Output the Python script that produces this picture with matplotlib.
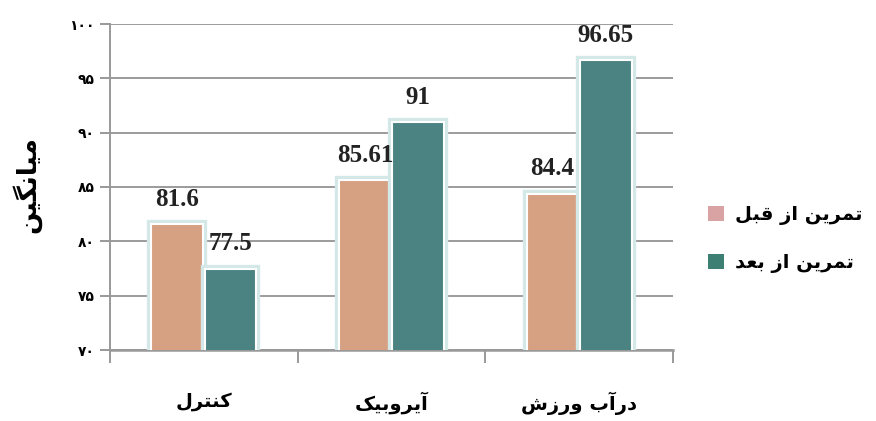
import matplotlib
matplotlib.use('Agg')
import matplotlib.pyplot as plt
import matplotlib.patheffects as pe
from matplotlib.patches import Patch
import numpy as np

# ---------------- data ----------------
categories = ['کنترل', 'آیروبیک', 'ورزش درآب']
series_names = ['قبل از تمرین', 'بعد از تمرین']
before = [81.6, 85.61, 84.4]
after = [77.5, 91, 96.65]
before_labels = ['81.6', '85.61', '84.4']
after_labels = ['77.5', '91', '96.65']
y_ticks = [70, 75, 80, 85, 90, 95, 100]
y_tick_labels = ['۷۰', '۷۵', '۸۰', '۸۵', '۹۰', '۹۵', '۱۰۰']
y_label = 'میانگین'

# ---------------- minimal Arabic/Persian shaping ----------------
FORMS = {
    'ا': ('\uFE8D', '\uFE8E', None, None),
    'آ': ('\uFE81', '\uFE82', None, None),
    'ب': ('\uFE8F', '\uFE90', '\uFE91', '\uFE92'),
    'ت': ('\uFE95', '\uFE96', '\uFE97', '\uFE98'),
    'د': ('\uFEA9', '\uFEAA', None, None),
    'ر': ('\uFEAD', '\uFEAE', None, None),
    'ز': ('\uFEAF', '\uFEB0', None, None),
    'ش': ('\uFEB5', '\uFEB6', '\uFEB7', '\uFEB8'),
    'ع': ('\uFEC9', '\uFECA', '\uFECB', '\uFECC'),
    'ق': ('\uFED5', '\uFED6', '\uFED7', '\uFED8'),
    'ل': ('\uFEDD', '\uFEDE', '\uFEDF', '\uFEE0'),
    'م': ('\uFEE1', '\uFEE2', '\uFEE3', '\uFEE4'),
    'ن': ('\uFEE5', '\uFEE6', '\uFEE7', '\uFEE8'),
    'و': ('\uFEED', '\uFEEE', None, None),
    'ی': ('\uFBFC', '\uFBFD', '\uFBFE', '\uFBFF'),
    'ک': ('\uFB8E', '\uFB8F', '\uFB90', '\uFB91'),
    'گ': ('\uFB92', '\uFB93', '\uFB94', '\uFB95'),
}


def shape_word(w):
    out = []
    n = len(w)
    for i, c in enumerate(w):
        f = FORMS.get(c)
        if f is None:
            out.append(c)
            continue
        prev = w[i - 1] if i > 0 else None
        nxt = w[i + 1] if i < n - 1 else None
        jp = prev in FORMS and FORMS[prev][2] is not None
        jn = f[2] is not None and nxt in FORMS
        if jp and jn:
            g = f[3]
        elif jp:
            g = f[1]
        elif jn:
            g = f[2]
        else:
            g = f[0]
        out.append(g)
    return ''.join(reversed(out))


def shape(text):
    # the reference keeps word order left-to-right, each word shaped
    return ' '.join(shape_word(w) for w in text.split(' '))


# ---------------- figure ----------------
plt.rcParams['font.family'] = ['DejaVu Sans']
fig = plt.figure(figsize=(8.76, 4.21), dpi=100)
ax = fig.add_axes([110 / 876, 1 - 350 / 421, 563 / 876, 326 / 421])

c_before = '#D6A082'
c_after = '#4B8383'
x = np.arange(len(categories))
w = 0.275
off = 0.142
glow = [pe.Stroke(linewidth=6, foreground='#d4e8e8'), pe.Normal()]

b1 = ax.bar(x - off, before, w, bottom=0, color=c_before, edgecolor='white',
            linewidth=1.5, zorder=3)
b2 = ax.bar(x + off, after, w, bottom=0, color=c_after, edgecolor='white',
            linewidth=1.5, zorder=3)
for b in list(b1) + list(b2):
    b.set_path_effects(glow)

lab_font = dict(family=['Liberation Serif'], fontweight='bold', fontsize=18,
                color='#222222')
for xi, v, t in zip(x - off, before, before_labels):
    ax.annotate(t, (xi, v), xytext=(0, 13), textcoords='offset points',
                ha='center', va='baseline', zorder=5, **lab_font)
for xi, v, t in zip(x + off, after, after_labels):
    ax.annotate(t, (xi, v), xytext=(0, 13), textcoords='offset points',
                ha='center', va='baseline', zorder=5, **lab_font)

ax.set_ylim(70, 100)
ax.set_xlim(-0.5, len(categories) - 0.5)
ax.set_yticks(y_ticks)
ax.set_yticklabels(y_tick_labels, fontsize=10, fontweight='bold')
ax.yaxis.grid(True, color='#8a8a8a', linewidth=1.2, zorder=0)
ax.set_axisbelow(True)

ax.set_xticks(np.arange(len(categories) + 1) - 0.5)
ax.set_xticklabels([''] * (len(categories) + 1))
ax.set_xticks(x, minor=True)
ax.set_xticklabels([shape(c) for c in categories], minor=True,
                   fontsize=14, fontweight='bold')
ax.tick_params(axis='x', which='minor', length=0, pad=30)
ax.tick_params(axis='x', which='major', length=9, width=1.4, color='#999999')
ax.tick_params(axis='y', length=7, width=1.4, color='#999999', pad=4)

for s in ['top', 'right']:
    ax.spines[s].set_visible(False)
ax.spines['left'].set_color('#999999')
ax.spines['left'].set_linewidth(1.4)
ax.spines['bottom'].set_color('#999999')
ax.spines['bottom'].set_linewidth(1.8)

fig.text(26 / 876, 1 - 185 / 421, shape(y_label), rotation=90, ha='center',
         va='center', fontsize=19, fontweight='bold')

handles = [Patch(facecolor='#D9A3A3'), Patch(facecolor='#3E7F74')]
fig.legend(handles, [shape(s) for s in series_names], loc='center left',
           bbox_to_anchor=(708 / 876, 1 - 239 / 421), frameon=False,
           borderpad=0, borderaxespad=0,
           handlelength=0.8, handleheight=0.8, handletextpad=0.6,
           labelspacing=1.45, prop=dict(weight='bold', size=14))

fig.savefig('out.png', dpi=100)
